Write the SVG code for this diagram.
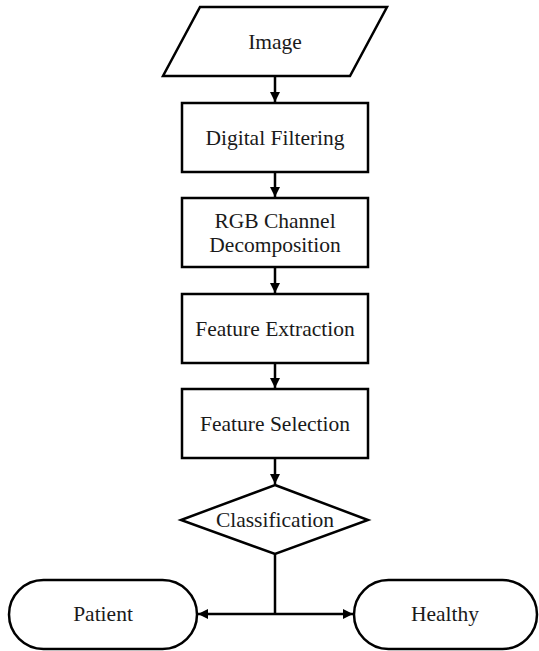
<svg xmlns="http://www.w3.org/2000/svg" width="539" height="651" viewBox="0 0 539 651">
<defs>
<marker id="ah" markerWidth="10" markerHeight="10" viewBox="0 0 10 10" refX="10" refY="5" orient="auto" markerUnits="userSpaceOnUse">
<path d="M0,0 L10,5 L0,10 Z" fill="#000"/>
</marker>
</defs>
<style>
.s{fill:#fff;stroke:#000;stroke-width:2.5;stroke-linejoin:miter}
.t{font-family:"Liberation Serif",Cambria,serif;font-size:21.5px;fill:#1a1a1a;text-anchor:middle;dominant-baseline:central}
.c{fill:none;stroke:#000;stroke-width:2.5}
</style>
<rect width="539" height="651" fill="#fff"/>
<g id="connectors">
<line class="c" x1="275" y1="76" x2="275" y2="102" marker-end="url(#ah)"/>
<line class="c" x1="275" y1="172" x2="275" y2="197" marker-end="url(#ah)"/>
<line class="c" x1="275" y1="267" x2="275" y2="293" marker-end="url(#ah)"/>
<line class="c" x1="275" y1="363" x2="275" y2="388" marker-end="url(#ah)"/>
<line class="c" x1="275" y1="458" x2="275" y2="484" marker-end="url(#ah)"/>
<polyline class="c" points="275,554 275,614"/>
<line class="c" x1="275" y1="614" x2="198" y2="614" marker-end="url(#ah)"/>
<line class="c" x1="275" y1="614" x2="353" y2="614" marker-end="url(#ah)"/>
</g>
<g id="image">
<polygon class="s" points="200,7 387,7 350,76 163,76"/>
<text class="t" x="275" y="42">Image</text>
</g>
<g id="filtering">
<rect class="s" x="182" y="103" width="186" height="69"/>
<text class="t" x="275" y="138">Digital Filtering</text>
</g>
<g id="rgb">
<rect class="s" x="182" y="198" width="186" height="69"/>
<text class="t" x="275" y="221">RGB Channel</text>
<text class="t" x="275" y="245">Decomposition</text>
</g>
<g id="extraction">
<rect class="s" x="182" y="294" width="186" height="69"/>
<text class="t" x="275" y="329">Feature Extraction</text>
</g>
<g id="selection">
<rect class="s" x="182" y="389" width="186" height="69"/>
<text class="t" x="275" y="424">Feature Selection</text>
</g>
<g id="classification">
<polygon class="s" points="275,485 368,520 275,554 181,520"/>
<text class="t" x="275" y="520">Classification</text>
</g>
<g id="patient">
<rect class="s" x="9" y="580" width="188" height="69" rx="34.5" ry="34.5"/>
<text class="t" x="103" y="614">Patient</text>
</g>
<g id="healthy">
<rect class="s" x="354" y="580" width="183" height="69" rx="34.5" ry="34.5"/>
<text class="t" x="445" y="614">Healthy</text>
</g>
</svg>
